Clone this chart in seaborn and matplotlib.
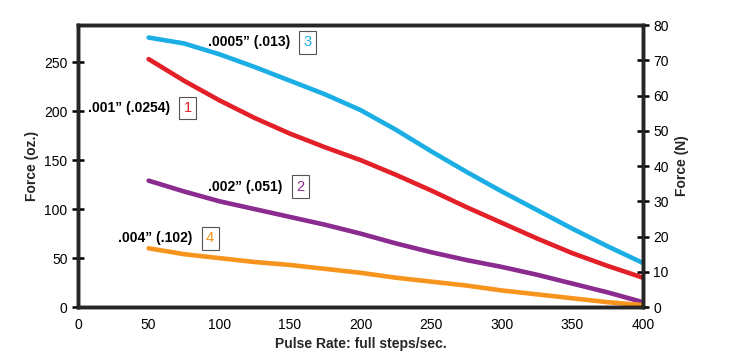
import seaborn as sns
import matplotlib.pyplot as plt
import pandas as pd

rate = [50, 75, 100, 125, 150, 175, 200, 225, 250, 275, 300, 325, 350, 375, 400]
force_1 = [253, 231, 211, 193, 177, 163, 150, 135, 119, 102, 86, 70, 55, 42, 30]
force_2 = [129, 118, 108, 100, 92, 84, 75, 65, 56, 48, 41, 33, 24, 15, 5]
force_3 = [275, 269, 258, 245, 231, 217, 201, 181, 159, 138, 118, 99, 80, 62, 45]
force_4 = [60, 54, 50, 46, 43, 39, 35, 30, 26, 22, 17, 13, 9, 5, 2]
series_names = ["1", "2", "3", "4"]
colors = {"1": "#e32028", "2": "#8b2a8f", "3": "#1aaee5", "4": "#f7941d"}
labels = {"1": ".001\u201d (.0254)", "2": ".002\u201d (.051)",
          "3": ".0005\u201d (.013)", "4": ".004\u201d (.102)"}
label_pos = {"1": (65, 203), "2": (145, 123), "3": (150, 270), "4": (81, 70)}

OZ_PER_N = 3.5969

rows = []
for name, vals in zip(series_names, [force_1, force_2, force_3, force_4]):
    for x, y in zip(rate, vals):
        rows.append({"rate": x, "force": y, "series": name})
df = pd.DataFrame(rows)

sns.set_style("white")
plt.rcParams['font.family'] = ['Liberation Sans', 'DejaVu Sans']

fig = plt.figure(figsize=(7.29, 3.63), dpi=100)
ax = fig.add_axes([0.107, 0.154, 0.775, 0.777])
sns.lineplot(data=df, x="rate", y="force", hue="series", palette=colors,
             linewidth=3.3, legend=False, ax=ax)

ax.set_xlim(0, 400)
ax.set_ylim(0, 80 * OZ_PER_N)
ax.set_xticks(range(0, 401, 50))
ax.set_yticks(range(0, 251, 50))
ax.set_xlabel("Pulse Rate: full steps/sec.", fontsize=10, fontweight="bold")
ax.set_ylabel("Force (oz.)", fontsize=10, fontweight="bold")
for s in ax.spines.values():
    s.set_linewidth(2.5)
    s.set_color("black")
ax.tick_params(direction="inout", length=8, width=1.8, labelsize=10, colors="black")

ax2 = ax.twinx()
ax2.set_ylim(0, 80)
ax2.set_yticks(range(0, 81, 10))
ax2.set_ylabel("Force (N)", fontsize=10, fontweight="bold")
ax2.tick_params(direction="inout", length=8, width=1.8, labelsize=10, colors="black")
for s in ax2.spines.values():
    s.set_linewidth(2.5)

for name in series_names:
    x, y = label_pos[name]
    ax.text(x, y, labels[name], ha="right", va="center", fontsize=10,
            fontweight="bold", color="black")
    ax.text(x + 12.5, y, name, ha="center", va="center", fontsize=10.5,
            color=colors[name],
            bbox=dict(boxstyle="square,pad=0.3", facecolor="white",
                      edgecolor="#555555", linewidth=0.8))

fig.savefig("out.png", dpi=100)
